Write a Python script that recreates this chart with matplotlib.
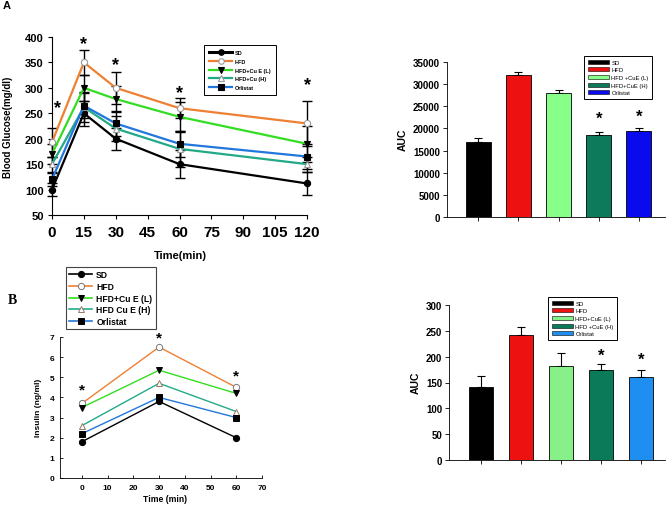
import matplotlib
matplotlib.use("Agg")
import matplotlib.pyplot as plt
from matplotlib.patches import Patch
from matplotlib.lines import Line2D

plt.rcParams['font.family'] = ['Liberation Sans', 'DejaVu Sans']

W, H = 672, 506

# ---------------- data ----------------
# Panel A: OGTT blood glucose
time_a = [0, 15, 30, 60, 120]
glu_sd = [100, 250, 200, 150, 112]
glu_hfd = [193, 350, 300, 260, 230]
glu_cuel = [170, 300, 278, 243, 190]
glu_cuh = [150, 262, 220, 180, 150]
glu_orl = [120, 265, 230, 190, 165]
err_sd = [12, 25, 22, 28, 23]
err_hfd = [28, 25, 32, 20, 45]
err_cuel = [20, 25, 25, 30, 35]
err_cuh = [15, 30, 25, 35, 15]
err_orl = [12, 25, 25, 25, 25]
glu_labels = ['SD', 'HFD', 'HFD+Cu E (L)', 'HFD+Cu (H)', 'Orlistat']
star_a_x = [2.5, 15, 30, 60, 120]
star_a_y = [262, 388, 346, 290, 306]

# Panel A: glucose AUC
auc_a = [17000, 32000, 28000, 18500, 19500]
auc_a_err = [800, 800, 600, 700, 700]
auc_a_labels = ['SD', 'HFD', 'HFD +CuE (L)', 'HFD+CuE (H)', 'Orlistat']
auc_a_star_idx = [3, 4]
auc_a_star_y = [22400, 22700]

# Panel B: insulin
time_b = [0, 30, 60]
ins_sd = [1.8, 3.8, 2.0]
ins_hfd = [3.7, 6.5, 4.5]
ins_cuel = [3.5, 5.35, 4.2]
ins_cuh = [2.6, 4.7, 3.3]
ins_orl = [2.2, 4.0, 3.0]
ins_labels = ['SD', 'HFD', 'HFD+Cu E (L)', 'HFD Cu E (H)', 'Orlistat']
star_b_x = [0, 30, 60]
star_b_y = [4.4, 7.0, 5.1]

# Panel B: insulin AUC
auc_b = [141, 241, 181, 174, 161]
auc_b_err = [22, 16, 26, 11, 14]
auc_b_labels = ['SD', 'HFD', 'HFD+CuE (L)', 'HFD +CuE (H)', 'Orlistat']
auc_b_star_idx = [3, 4]
auc_b_star_y = [203, 195]

# ---------------- helpers ----------------
def px_axes(fig, left, top, right, bottom):
    return fig.add_axes([left / W, 1 - bottom / H, (right - left) / W, (bottom - top) / H])

def fig_pt(x, y):
    return (x / W, 1 - y / H)

fig = plt.figure(figsize=(W / 100, H / 100), dpi=100)
fig.patch.set_facecolor('white')

line_colors = ['#000000', '#EE8033', '#33DD22', '#22AA88', '#2277DD']

# ---------------- Panel A line ----------------
ax1 = px_axes(fig, 52, 38, 307, 216)
series_a = [glu_sd, glu_hfd, glu_cuel, glu_cuh, glu_orl]
errs_a = [err_sd, err_hfd, err_cuel, err_cuh, err_orl]
mk = ['o', 'o', 'v', '^', 's']
mfc = ['black', 'white', 'black', 'white', 'black']
mec = ['black', '#999999', 'black', '#999999', 'black']
handles = []
for y, e, c, m, fc, ec, lab in zip(series_a, errs_a, line_colors, mk, mfc, mec, glu_labels):
    ax1.errorbar(time_a, y, yerr=e, fmt='none', ecolor='black', elinewidth=1.0,
                 capsize=3.5, capthick=1.0, clip_on=False, zorder=2)
    ax1.plot(time_a, y, color=c, lw=1.6, marker=m, ms=4.5, mfc=fc, mec=ec, mew=0.8,
             clip_on=False, zorder=3)
    handles.append(Line2D([], [], color=c, lw=1.6 if lab != 'SD' else 2.2, marker=m,
                          ms=4, mfc=fc, mec=ec, mew=0.8))
for sx, sy in zip(star_a_x, star_a_y):
    ax1.text(sx, sy, '*', ha='center', va='center', fontsize=13, fontweight='bold')
ax1.set_xlim(0, 120)
ax1.set_ylim(50, 400)
ax1.set_xticks(range(0, 121, 15))
ax1.set_yticks(range(50, 401, 50))
for s in ['top', 'right']:
    ax1.spines[s].set_visible(False)
for s in ['left', 'bottom']:
    ax1.spines[s].set_linewidth(0.8)
ax1.tick_params(axis='x', labelsize=11, length=3, width=0.8, pad=4)
ax1.tick_params(axis='y', labelsize=8, length=3, width=0.8, pad=3)
for t in ax1.get_xticklabels() + ax1.get_yticklabels():
    t.set_fontweight('bold')
fig.text(*fig_pt(180, 256), 'Time(min)', ha='center', va='center', fontsize=8, fontweight='bold')
fig.text(*fig_pt(8, 127), 'Blood Glucose(mg/dl)', ha='center', va='center', rotation=90,
         fontsize=7, fontweight='bold')
fig.text(*fig_pt(7, 6), 'A', ha='center', va='center', fontsize=8, fontweight='bold')
leg = ax1.legend(handles, glu_labels, loc='upper left', bbox_to_anchor=fig_pt(204, 46),
                 bbox_transform=fig.transFigure, borderaxespad=0, fontsize=4,
                 prop={'weight': 'bold', 'size': 4}, handlelength=4.2, labelspacing=0.68,
                 borderpad=0.9, handletextpad=0.5, fancybox=False, edgecolor='black',
                 framealpha=1)
leg.get_frame().set_linewidth(0.7)

# ---------------- Panel A bar ----------------
bar_colors_a = ['#000000', '#EE1111', '#88FF88', '#0E7A5C', '#0A0AEE']
ax2 = px_axes(fig, 447, 63, 665, 218)
xs = list(range(len(auc_a)))
ax2.bar(xs, auc_a, width=0.62, color=bar_colors_a, edgecolor='black', linewidth=0.6, zorder=2)
ax2.errorbar(xs, auc_a, yerr=[[0] * len(auc_a), auc_a_err], fmt='none', ecolor='black',
             elinewidth=0.8, capsize=3, capthick=0.8, zorder=1)
for i, sy in zip(auc_a_star_idx, auc_a_star_y):
    ax2.text(xs[i], sy, '*', ha='center', va='center', fontsize=12, fontweight='bold')
ax2.set_xlim(-0.775, 4.65)
ax2.set_ylim(0, 35000)
ax2.set_yticks(range(0, 35001, 5000))
ax2.set_xticks(xs)
ax2.set_xticklabels([''] * len(xs))
for s in ['top', 'right']:
    ax2.spines[s].set_visible(False)
for s in ['left', 'bottom']:
    ax2.spines[s].set_linewidth(0.6)
ax2.tick_params(axis='y', labelsize=7, length=3, width=0.6, pad=2)
ax2.tick_params(axis='x', length=3, width=0.6)
for t in ax2.get_yticklabels():
    t.set_fontweight('bold')
fig.text(*fig_pt(403, 140), 'AUC', ha='center', va='center', rotation=90,
         fontsize=7.5, fontweight='bold')
h2 = [Patch(facecolor=c, edgecolor='black', linewidth=0.4) for c in bar_colors_a]
leg2 = ax2.legend(h2, auc_a_labels, loc='upper left', bbox_to_anchor=fig_pt(584, 57),
                  bbox_transform=fig.transFigure, borderaxespad=0, fontsize=4.2,
                  handlelength=3.6, handleheight=0.7, labelspacing=0.45, borderpad=0.6,
                  handletextpad=0.5, fancybox=False, edgecolor='black', framealpha=1)
leg2.get_frame().set_linewidth(0.7)

# ---------------- Panel B line ----------------
ax3 = px_axes(fig, 60, 338, 262, 479)
series_b = [ins_sd, ins_hfd, ins_cuel, ins_cuh, ins_orl]
mec_b = ['black', '#777777', 'black', '#997766', 'black']
hb = []
for y, c, m, fc, ec in zip(series_b, line_colors, mk, mfc, mec_b):
    ax3.plot(time_b, y, color=c, lw=1.0, marker=m, ms=4.5, mfc=fc, mec=ec, mew=0.7,
             clip_on=False, zorder=3)
    hb.append(Line2D([], [], color=c, lw=1.2, marker=m, ms=4.5, mfc=fc, mec=ec, mew=0.7))
for sx, sy in zip(star_b_x, star_b_y):
    ax3.text(sx, sy, '*', ha='center', va='center', fontsize=11, fontweight='bold')
ax3.set_xlim(-8.5, 70)
ax3.set_ylim(0, 7)
ax3.set_xticks(range(0, 71, 10))
ax3.set_yticks(range(0, 8))
for s in ['top', 'right']:
    ax3.spines[s].set_visible(False)
for s in ['left', 'bottom']:
    ax3.spines[s].set_linewidth(0.6)
ax3.tick_params(axis='both', direction='in', labelsize=6, length=2, width=0.6, pad=4)
for t in ax3.get_xticklabels() + ax3.get_yticklabels():
    t.set_fontweight('bold')
fig.text(*fig_pt(165, 500), 'Time (min)', ha='center', va='center', fontsize=6.2, fontweight='bold')
fig.text(*fig_pt(39, 408), 'Insulin (ng/ml)', ha='center', va='center', rotation=90,
         fontsize=6, fontweight='bold')
fig.text(*fig_pt(12, 300), 'B', ha='center', va='center', fontsize=10, fontweight='bold',
         family=['Liberation Serif', 'DejaVu Serif'])
leg3 = ax3.legend(hb, ins_labels, loc='upper left', bbox_to_anchor=fig_pt(66, 268),
                  bbox_transform=fig.transFigure, borderaxespad=0,
                  prop={'weight': 'bold', 'size': 6.2}, handlelength=2.6, labelspacing=0.3,
                  borderpad=0.4, handletextpad=0.5, fancybox=False, edgecolor='#444444',
                  framealpha=1)
leg3.get_frame().set_linewidth(0.8)

# ---------------- Panel B bar ----------------
bar_colors_b = ['#000000', '#EE1111', '#88F088', '#0B7A58', '#1E8FF0']
ax4 = px_axes(fig, 449, 306, 665, 461)
xs = list(range(len(auc_b)))
ax4.bar(xs, auc_b, width=0.6, color=bar_colors_b, edgecolor='black', linewidth=0.6, zorder=2)
ax4.errorbar(xs, auc_b, yerr=[[0] * len(auc_b), auc_b_err], fmt='none', ecolor='black',
             elinewidth=0.8, capsize=3, capthick=0.8, zorder=1)
for i, sy in zip(auc_b_star_idx, auc_b_star_y):
    ax4.text(xs[i], sy, '*', ha='center', va='center', fontsize=12, fontweight='bold')
ax4.set_xlim(-0.8, 4.6)
ax4.set_ylim(0, 300)
ax4.set_yticks(range(0, 301, 50))
ax4.set_xticks(xs)
ax4.set_xticklabels([''] * len(xs))
for s in ['top', 'right']:
    ax4.spines[s].set_visible(False)
for s in ['left', 'bottom']:
    ax4.spines[s].set_linewidth(0.6)
ax4.tick_params(axis='y', labelsize=7, length=3, width=0.6, pad=2)
ax4.tick_params(axis='x', length=3, width=0.6)
for t in ax4.get_yticklabels():
    t.set_fontweight('bold')
fig.text(*fig_pt(416, 383), 'AUC', ha='center', va='center', rotation=90,
         fontsize=7.5, fontweight='bold')
h4 = [Patch(facecolor=c, edgecolor='black', linewidth=0.4) for c in bar_colors_b]
leg4 = ax4.legend(h4, auc_b_labels, loc='upper left', bbox_to_anchor=fig_pt(548, 298),
                  bbox_transform=fig.transFigure, borderaxespad=0, fontsize=4.2,
                  handlelength=3.6, handleheight=0.7, labelspacing=0.45, borderpad=0.6,
                  handletextpad=0.5, fancybox=False, edgecolor='black', framealpha=1)
leg4.get_frame().set_linewidth(0.7)

fig.savefig('out.png', dpi=100, facecolor='white')
